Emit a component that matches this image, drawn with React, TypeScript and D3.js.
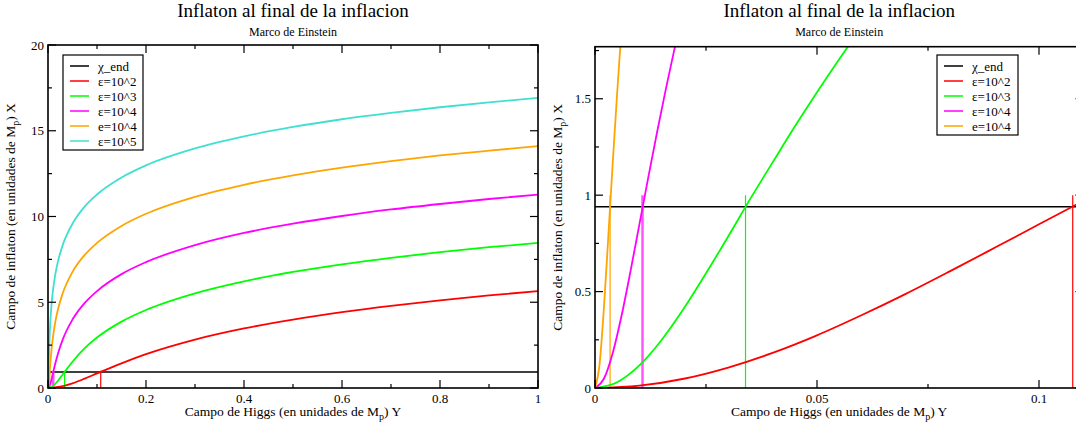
import React from "react";
import * as d3 from "d3";

// valores: [Y, X]
const leftRed: [number, number][] = [[0, 0], [0.025, 0.074], [0.05, 0.27], [0.075, 0.547], [0.1, 0.85], [0.15, 1.44], [0.2, 1.97], [0.3, 2.82], [0.4, 3.47], [0.5, 3.99], [0.6, 4.42], [0.7, 4.79], [0.8, 5.11], [0.9, 5.4], [1, 5.65]];
const leftGreen: [number, number][] = [[0, 0], [0.01, 0.12], [0.02, 0.41], [0.03, 0.79], [0.05, 1.53], [0.075, 2.32], [0.1, 2.94], [0.15, 3.87], [0.2, 4.55], [0.3, 5.52], [0.4, 6.22], [0.5, 6.77], [0.6, 7.21], [0.7, 7.59], [0.8, 7.92], [0.9, 8.21], [1, 8.46]];
const leftMagenta: [number, number][] = [[0, 0], [0.005, 0.27], [0.01, 0.85], [0.015, 1.44], [0.02, 1.97], [0.03, 2.82], [0.05, 3.99], [0.075, 4.96], [0.1, 5.65], [0.15, 6.64], [0.2, 7.34], [0.3, 8.33], [0.4, 9.04], [0.5, 9.58], [0.6, 10.03], [0.7, 10.41], [0.8, 10.73], [0.9, 11.02], [1, 11.28]];
const leftOrange: [number, number][] = [[0, 0], [0.0015, 0.25], [0.003, 0.79], [0.005, 1.53], [0.0075, 2.32], [0.01, 2.94], [0.015, 3.87], [0.02, 4.55], [0.03, 5.52], [0.05, 6.77], [0.075, 7.76], [0.1, 8.46], [0.15, 9.45], [0.2, 10.16], [0.3, 11.15], [0.4, 11.85], [0.5, 12.4], [0.6, 12.85], [0.7, 13.23], [0.8, 13.56], [0.9, 13.84], [1, 14.1]];
const leftCyan: [number, number][] = [[0, 0], [0.0005, 0.27], [0.001, 0.85], [0.002, 1.97], [0.003, 2.82], [0.005, 3.99], [0.0075, 4.96], [0.01, 5.65], [0.015, 6.64], [0.02, 7.34], [0.03, 8.33], [0.05, 9.58], [0.075, 10.58], [0.1, 11.28], [0.15, 12.27], [0.2, 12.98], [0.3, 13.97], [0.4, 14.67], [0.5, 15.22], [0.6, 15.67], [0.7, 16.04], [0.8, 16.37], [0.9, 16.66], [1, 16.92]];

const rightRed: [number, number][] = [[0, 0], [0.01, 0.012], [0.02, 0.048], [0.03, 0.106], [0.04, 0.182], [0.05, 0.273], [0.06, 0.377], [0.07, 0.488], [0.08, 0.606], [0.09, 0.727], [0.1, 0.849], [0.11, 0.971]];
const rightGreen: [number, number][] = [[0, 0], [0.005, 0.03], [0.01, 0.117], [0.015, 0.249], [0.02, 0.412], [0.025, 0.595], [0.03, 0.786], [0.035, 0.982], [0.04, 1.17], [0.045, 1.356], [0.05, 1.534], [0.055, 1.705], [0.06, 1.869]];
const rightMagenta: [number, number][] = [[0, 0], [0.002, 0.048], [0.004, 0.182], [0.006, 0.377], [0.008, 0.606], [0.01, 0.849], [0.012, 1.092], [0.014, 1.329], [0.016, 1.555], [0.018, 1.769], [0.02, 1.97]];
const rightOrange: [number, number][] = [[0, 0], [0.001, 0.117], [0.002, 0.412], [0.003, 0.786], [0.004, 1.17], [0.005, 1.534], [0.006, 1.869]];

const chiEnd = 0.94;
const yEnd = [0.1076, 0.0339, 0.0107, 0.0034]; // red, green, magenta, orange
const vertTop = 1.0;

const legendLabels = ["χ_end", "ε=10^2", "ε=10^3", "ε=10^4", "e=10^4", "ε=10^5"];
const colors = ["#000000", "#ff0000", "#00ff00", "#ff00ff", "#ffa500", "#40e0d0"];
const vertColors = ["#ff0000", "#00ff00", "#ff55ff", "#ffa500"];

const leftXMajor = [0, 0.2, 0.4, 0.6, 0.8, 1];
const leftXMinor = [0.1, 0.3, 0.5, 0.7, 0.9];
const leftYMajor = [0, 5, 10, 15, 20];
const leftYMinor = [2.5, 7.5, 12.5, 17.5];
const rightXMajor = [0, 0.05, 0.1];
const rightXMinor = [0.025, 0.075];
const rightYMajor = [0, 0.5, 1, 1.5];
const rightYMinor = [0.25, 0.75, 1.25, 1.75];

const FONT = "'Liberation Serif', 'DejaVu Serif', serif";

function Panel(props: any) {
  const { id, x0, x1, y0, y1, xDomain, yDomain, series, xMajor, xMinor, yMajor, yMinor, legend, legendX, legendW, verts } = props;
  const x = d3.scaleLinear().domain(xDomain).range([x0, x1]);
  const y = d3.scaleLinear().domain(yDomain).range([y1, y0]);
  const line = d3
    .line<[number, number]>()
    .x((d) => x(d[0]))
    .y((d) => y(d[1]))
    .curve(d3.curveMonotoneX);
  const cx = (x0 + Math.min(x1, 1076 + 8)) / 2;
  const midX = (x0 + x1) / 2;
  const midY = (y0 + y1) / 2;

  return (
    <g>
      <defs>
        <clipPath id={id}>
          <rect x={x0} y={y0} width={x1 - x0} height={y1 - y0} />
        </clipPath>
      </defs>
      <text x={midX} y={17} textAnchor="middle" fontSize={19} fontFamily={FONT}>
        Inflaton al final de la inflacion
      </text>
      <text x={midX} y={36} textAnchor="middle" fontSize={12} fontFamily={FONT}>
        Marco de Einstein
      </text>

      <g clipPath={`url(#${id})`}>
        <line x1={x(xDomain[0])} x2={x(Math.min(xDomain[1], props.chiTo))} y1={y(chiEnd)} y2={y(chiEnd)} stroke="#000" strokeWidth={1.5} />
        {verts.map((v: number, i: number) => (
          <line key={i} x1={x(v)} x2={x(v)} y1={y(0)} y2={y(vertTop)} stroke={vertColors[i]} strokeWidth={i === 2 ? 2.5 : 1.2} />
        ))}
        {series.map((s: [number, number][], i: number) => (
          <path key={i} d={line(s) || ""} fill="none" stroke={colors[i + 1]} strokeWidth={1.8} />
        ))}
      </g>

      <rect x={x0} y={y0} width={x1 - x0} height={y1 - y0} fill="none" stroke="#000" strokeWidth={1.6} />

      {xMajor.map((t: number) => (
        <g key={"xm" + t}>
          <line x1={x(t)} x2={x(t)} y1={y1} y2={y1 - 8} stroke="#000" strokeWidth={1.2} />
          <line x1={x(t)} x2={x(t)} y1={y0} y2={y0 + 8} stroke="#000" strokeWidth={1.2} />
          <text x={x(t)} y={y1 + 15} textAnchor="middle" fontSize={13} fontFamily={FONT}>
            {String(t)}
          </text>
        </g>
      ))}
      {xMinor.map((t: number) => (
        <g key={"xn" + t}>
          <line x1={x(t)} x2={x(t)} y1={y1} y2={y1 - 4} stroke="#000" strokeWidth={1.2} />
          <line x1={x(t)} x2={x(t)} y1={y0} y2={y0 + 4} stroke="#000" strokeWidth={1.2} />
        </g>
      ))}
      {yMajor.map((t: number) => (
        <g key={"ym" + t}>
          <line x1={x0} x2={x0 + 8} y1={y(t)} y2={y(t)} stroke="#000" strokeWidth={1.2} />
          <line x1={x1} x2={x1 - 8} y1={y(t)} y2={y(t)} stroke="#000" strokeWidth={1.2} />
          <text x={x0 - 4} y={y(t) + 4.5} textAnchor="end" fontSize={13} fontFamily={FONT}>
            {String(t)}
          </text>
        </g>
      ))}
      {yMinor.map((t: number) => (
        <g key={"yn" + t}>
          <line x1={x0} x2={x0 + 4} y1={y(t)} y2={y(t)} stroke="#000" strokeWidth={1.2} />
          <line x1={x1} x2={x1 - 4} y1={y(t)} y2={y(t)} stroke="#000" strokeWidth={1.2} />
        </g>
      ))}

      <text x={cx} y={416} textAnchor="middle" fontSize={13.5} fontFamily={FONT}>
        Campo de Higgs (en unidades de M<tspan fontSize={10} dy={4}>p</tspan>
        <tspan dy={-4}>) Y</tspan>
      </text>
      <text transform={`translate(${x0 - 33},${midY}) rotate(-90)`} textAnchor="middle" fontSize={13.5} fontFamily={FONT}>
        Campo de inflaton (en unidades de M<tspan fontSize={10} dy={4}>p</tspan>
        <tspan dy={-4}>) X</tspan>
      </text>

      <g>
        <rect x={legendX} y={55} width={legendW} height={legend * 15 + 5} fill="#fff" stroke="#000" strokeWidth={1.2} />
        {legendLabels.slice(0, legend).map((lab, i) => (
          <g key={lab + i}>
            <line x1={legendX + 7} x2={legendX + 26} y1={66 + i * 15} y2={66 + i * 15} stroke={colors[i]} strokeWidth={1.5} />
            <text x={legendX + 35} y={70.5 + i * 15} fontSize={13} fontFamily={FONT}>
              {lab}
            </text>
          </g>
        ))}
      </g>
    </g>
  );
}

export default function App() {
  return (
    <div style={{ position: "absolute", left: 0, top: 0 }}>
      <svg width={1076} height={430} style={{ display: "block", background: "#fff" }}>
        <Panel
          id="clipLeft"
          x0={48}
          x1={538}
          y0={45}
          y1={388}
          xDomain={[0, 1]}
          yDomain={[0, 20]}
          series={[leftRed, leftGreen, leftMagenta, leftOrange, leftCyan]}
          xMajor={leftXMajor}
          xMinor={leftXMinor}
          yMajor={leftYMajor}
          yMinor={leftYMinor}
          legend={6}
          legendX={63}
          legendW={80}
          verts={yEnd}
          chiTo={1}
        />
        <Panel
          id="clipRight"
          x0={595}
          x1={1083.4}
          y0={46.7}
          y1={388}
          xDomain={[0, 0.11]}
          yDomain={[0, 1.77]}
          series={[rightRed, rightGreen, rightMagenta, rightOrange]}
          xMajor={rightXMajor}
          xMinor={rightXMinor}
          yMajor={rightYMajor}
          yMinor={rightYMinor}
          legend={5}
          legendX={937}
          legendW={81}
          verts={yEnd}
          chiTo={0.11}
        />
      </svg>
    </div>
  );
}
